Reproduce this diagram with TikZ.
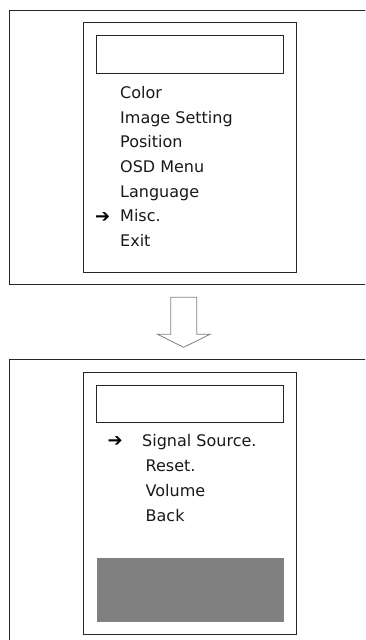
\documentclass[tikz,border=0pt]{standalone}
\usepackage{fontspec}
\setmainfont{DejaVu Sans}
\usepackage{xcolor}
\definecolor{osdgray}{HTML}{808080}

\begin{document}
\begin{tikzpicture}[x=1pt,y=-1pt,
    frame/.style={draw=black!85,line width=1pt},
    item/.style={anchor=base west,inner sep=0pt,font=\fontsize{16}{19}\selectfont,text=black!90},
    pointer/.style={item,font=\fontsize{18}{21}\selectfont,text=black}]
	\useasboundingbox (0,0) rectangle (365,640);
	\clip (0,0) rectangle (365,640);
	% top screen
	\draw[frame] (380,10) -- (9.5,10) -- (9.5,284) -- (380,284);
	\draw[frame] (83.5,22.5) rectangle (296,272.5);
	\draw[frame] (96.5,35.5) rectangle (283.5,73);
	\foreach \lbl [count=\i] in {Color,Image Setting,Position,OSD Menu,Language,Misc.,Exit}
		\node[item] (top\i) at (120,{98.3+24.73*(\i-1)}) {\lbl};
	\node[pointer] (topsel) at (95,222) {➔};
	% arrow between
	\draw[draw=osdgray,fill=white,line width=0.8pt] (170.7,297.3) -- (196.7,297.3) -- (196.7,334.3) -- (210,334.3)
		-- (183.7,347.3) -- (157.7,334.3) -- (170.7,334.3) -- cycle;
	% bottom screen
	\draw[frame] (380,359) -- (9.5,359) -- (9.5,660);
	\draw[frame] (83.5,372) rectangle (296,634.5);
	\draw[frame] (96.5,385) rectangle (283.5,422.5);
	\fill[osdgray] (96.5,558.3) rectangle (283.5,622.3);
	\node[pointer] (botsel) at (107.5,446.7) {➔};
	\node[item] (bot1) at (142,446.7) {Signal Source.};
	\foreach \lbl [count=\i] in {Reset.,Volume,Back}
		\node[item] (bot\i') at (145.5,{446.7+24.77*\i}) {\lbl};
\end{tikzpicture}
\end{document}
